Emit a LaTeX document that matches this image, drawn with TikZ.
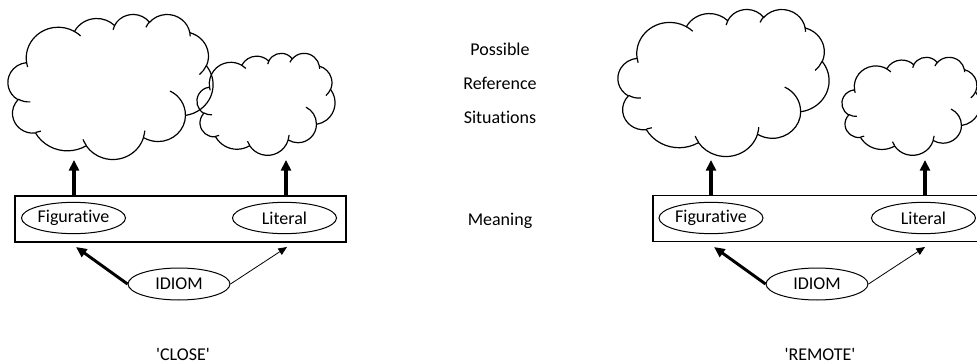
\documentclass[tikz,border=0pt]{standalone}
\usepackage{fontspec}
\setmainfont{Carlito}[Ligatures={TeXOff,CommonOff}]
\usetikzlibrary{arrows.meta,shapes.geometric}

% one lobe of a cloud outline: x radius, y radius, start and sweep
% given as seen on the page, turned into the ellipse's own angles
\newcommand\cloudarc[4]{%
    \pgfextra{%
        \pgfmathsetmacro\cloudst{atan2((#1)*sin(#3),(#2)*cos(#3))}%
        \pgfmathsetmacro\cloudsw{mod(atan2((#1)*sin(#3+#4),(#2)*cos(#3+#4))-\cloudst+720,360)}%
    }
    arc[x radius=#1, y radius=#2, start angle=\cloudst, delta angle=\cloudsw]}

\tikzset{
    cloudline/.style={line width=0.9pt},
    % cloud drawn in a 100 x 100 box, top left at the pic's origin
    pics/situation/.style={code={
        \coordinate (-center) at (50,50);
        \draw[cloudline] (9.03,33.26)
            \cloudarc{15.632}{21.273}{-190.49}{123.78}
            \cloudarc{12.345}{16.822}{-144.10}{89.95}
            \cloudarc{10.104}{13.762}{-145.81}{99.72}
            \cloudarc{11.243}{15.266}{-130.99}{117.24}
            \cloudarc{12.345}{16.836}{-78.71}{109.03}
            \cloudarc{15.683}{21.343}{-46.27}{130.27}
            \cloudarc{13.391}{18.211}{0.63}{114.03}
            \cloudarc{15.630}{21.331}{22.45}{115.17}
            \cloudarc{17.870}{24.405}{66.24}{75.71}
            \cloudarc{10.093}{13.699}{-274.94}{146.74}
            \cloudarc{10.058}{13.762}{-246.83}{152.52}
            -- cycle;
        % the short strokes inside the cloud
        \draw[cloudline]
            (10.86,60.59) \cloudarc{10.058}{13.762}{86.74}{26.43}
            (16.04,80.78) \cloudarc{10.093}{13.699}{73.61}{11.45}
            (38.14,90.49) \cloudarc{15.630}{21.331}{137.62}{14.08}
            (66.73,80.44) \cloudarc{15.630}{21.331}{6.45}{16.00}
            (79.00,53.13) \cloudarc{13.391}{18.211}{-70.29}{70.92}
            (96.75,35.54) \cloudarc{12.345}{16.836}{30.32}{27.75}
            (88.71,12.56) \cloudarc{11.243}{15.266}{-13.74}{14.86}
            (67.31,9.15) \cloudarc{11.243}{15.266}{-149.18}{18.20}
            (51.25,10.93) \cloudarc{10.104}{13.762}{-163.49}{17.69}
            (32.41,12.02) \cloudarc{15.632}{21.273}{-66.71}{12.32}
            (9.55,36.55) \cloudarc{15.632}{21.273}{157.65}{11.86};
    }},
    sense/.style={ellipse, draw, line width=0.75pt, inner sep=0pt,
        minimum width=78pt, minimum height=23.5pt},
    level/.style={draw, line width=1.1pt, minimum width=248.25pt, minimum height=34.5pt},
    lbl/.style={inner sep=0pt},
    refer/.style={line width=2.4pt, -{Triangle[length=8pt,width=7.5pt]}},
    strong/.style={line width=2.2pt, -{Triangle[length=8pt,width=7pt]}},
    weak/.style={line width=0.6pt, -{Triangle[length=6.5pt,width=5.5pt]}}
}

\begin{document}
\begin{tikzpicture}[x=0.75pt, y=-0.75pt, font=\fontsize{13.5}{15}\selectfont]
    \useasboundingbox (0,0) rectangle (977,363);
    \clip (0,0) rectangle (977,363);

    % row labels in the middle
    \node[lbl, anchor=base] (possible) at (500,56) {Possible};
    \node[lbl, anchor=base] (reference) at (500,90) {Reference};
    \node[lbl, anchor=base] (situations) at (500,124) {Situations};
    \node[lbl, anchor=base] (meaning) at (500,225) {Meaning};

    % close: the two clouds overlap
    \pic[xscale=2.05, yscale=1.45] (close-figsit) at (8,14) {situation};
    \pic[xscale=1.38, yscale=1.02] (close-litsit) at (197,53) {situation};
    \node[level] (close-box) at (180.5,219) {};
    \node[sense] (close-fig) at (73.5,218) {Figurative};
    \node[sense] (close-lit) at (284.5,218) {Literal};
    \node[sense, minimum width=76.5pt, minimum height=24pt] (close-idiom) at (179,284) {IDIOM};
    \coordinate (close-figtip) at (74,160);
    \coordinate (close-littip) at (286,160);
    \coordinate (close-figin) at (76,247);
    \coordinate (close-litin) at (287,247);
    \draw[refer] (close-box.north -| close-figtip) -- (close-figtip);
    \draw[refer] (close-box.north -| close-littip) -- (close-littip);
    \draw[strong] (close-idiom.west) -- (close-figin);
    \draw[weak] (close-idiom.east) -- (close-litin);
    \node[lbl, anchor=base] (close) at (183,360) {'CLOSE'};

    % remote: the two clouds stand apart
    \pic[xscale=2.11, yscale=1.47] (remote-figsit) at (618,9) {situation};
    \pic[xscale=1.38, yscale=0.98] (remote-litsit) at (842,57) {situation};
    \node[level] (remote-box) at (818.5,218.5) {};
    \node[sense] (remote-fig) at (711,218) {Figurative};
    \node[sense] (remote-lit) at (923.5,218) {Literal};
    \node[sense, minimum width=76.5pt, minimum height=24pt] (remote-idiom) at (817,284) {IDIOM};
    \coordinate (remote-figtip) at (711,160);
    \coordinate (remote-littip) at (925,160);
    \coordinate (remote-figin) at (714,247);
    \coordinate (remote-litin) at (925,247);
    \draw[refer] (remote-box.north -| remote-figtip) -- (remote-figtip);
    \draw[refer] (remote-box.north -| remote-littip) -- (remote-littip);
    \draw[strong] (remote-idiom.west) -- (remote-figin);
    \draw[weak] (remote-idiom.east) -- (remote-litin);
    \node[lbl, anchor=base] (remote) at (820,360) {'REMOTE'};
\end{tikzpicture}
\end{document}
